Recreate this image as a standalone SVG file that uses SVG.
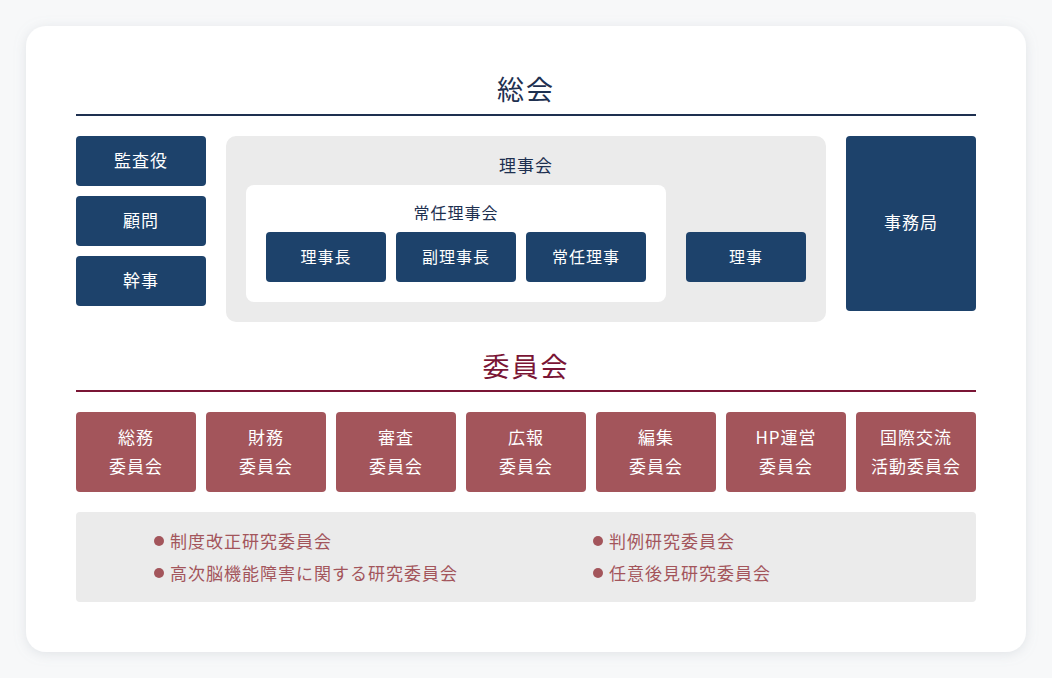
<svg xmlns="http://www.w3.org/2000/svg" width="1052" height="678" viewBox="0 0 1052 678">
<defs>
<filter id="sh" x="-10%" y="-10%" width="120%" height="120%"><feDropShadow dx="0" dy="2" stdDeviation="6" flood-color="#9aa6b0" flood-opacity="0.25"/></filter>
<style>
text{font-family:"Noto Sans CJK JP","Noto Sans",sans-serif;text-anchor:middle}
.nv{fill:#1d426b}
.rd{fill:#a3555b}
.wt{fill:#fff;font-size:17px;letter-spacing:1px}
.wt2{fill:#fff;font-size:16px;letter-spacing:1px}
.gp{fill:#ebebeb}
.li{fill:#a3555b;font-size:17px;text-anchor:start;letter-spacing:1px}
</style>
</defs>
<rect width="1052" height="678" fill="#f7f8f9"/>
<rect x="26" y="26" width="1000" height="626" rx="20" fill="#fff" filter="url(#sh)"/>
<text x="526" y="100" font-size="27" fill="#1e3050" letter-spacing="2">総会</text>
<line x1="76" y1="115" x2="976" y2="115" stroke="#1e3050" stroke-width="2"/>
<g id="kansayaku"><rect class="nv" x="76" y="136" width="130" height="50" rx="4"/><text class="wt" x="141" y="167">監査役</text></g>
<g id="komon"><rect class="nv" x="76" y="196" width="130" height="50" rx="4"/><text class="wt" x="141" y="227">顧問</text></g>
<g id="kanji"><rect class="nv" x="76" y="256" width="130" height="50" rx="4"/><text class="wt" x="141" y="287">幹事</text></g>
<g id="rijikai"><rect class="gp" x="226" y="136" width="600" height="186" rx="10"/><text x="526" y="172" font-size="17" fill="#1e3050" letter-spacing="1">理事会</text></g>
<g id="joninrijikai"><rect x="246" y="185" width="420" height="117" rx="8" fill="#fff"/><text x="456" y="219" font-size="16" fill="#1e3050" letter-spacing="1">常任理事会</text></g>
<g id="rijicho"><rect class="nv" x="266" y="232" width="120" height="50" rx="4"/><text class="wt2" x="326" y="263">理事長</text></g>
<g id="fukurijicho"><rect class="nv" x="396" y="232" width="120" height="50" rx="4"/><text class="wt2" x="456" y="263">副理事長</text></g>
<g id="joninriji"><rect class="nv" x="526" y="232" width="120" height="50" rx="4"/><text class="wt2" x="586" y="263">常任理事</text></g>
<g id="riji"><rect class="nv" x="686" y="232" width="120" height="50" rx="4"/><text class="wt2" x="746" y="263">理事</text></g>
<g id="jimukyoku"><rect class="nv" x="846" y="136" width="130" height="175" rx="4"/><text class="wt" x="911" y="229">事務局</text></g>
<text x="526" y="377" font-size="27" fill="#7a1535" letter-spacing="2">委員会</text>
<line x1="76" y1="391" x2="976" y2="391" stroke="#7a1535" stroke-width="2"/>
<g id="c1"><rect class="rd" x="76" y="412" width="120" height="80" rx="4"/><text class="wt" x="136" y="444">総務</text><text class="wt" x="136" y="473">委員会</text></g>
<g id="c2"><rect class="rd" x="206" y="412" width="120" height="80" rx="4"/><text class="wt" x="266" y="444">財務</text><text class="wt" x="266" y="473">委員会</text></g>
<g id="c3"><rect class="rd" x="336" y="412" width="120" height="80" rx="4"/><text class="wt" x="396" y="444">審査</text><text class="wt" x="396" y="473">委員会</text></g>
<g id="c4"><rect class="rd" x="466" y="412" width="120" height="80" rx="4"/><text class="wt" x="526" y="444">広報</text><text class="wt" x="526" y="473">委員会</text></g>
<g id="c5"><rect class="rd" x="596" y="412" width="120" height="80" rx="4"/><text class="wt" x="656" y="444">編集</text><text class="wt" x="656" y="473">委員会</text></g>
<g id="c6"><rect class="rd" x="726" y="412" width="120" height="80" rx="4"/><text class="wt" x="786" y="444">HP運営</text><text class="wt" x="786" y="473">委員会</text></g>
<g id="c7"><rect class="rd" x="856" y="412" width="120" height="80" rx="4"/><text class="wt" x="916" y="444">国際交流</text><text class="wt" x="916" y="473">活動委員会</text></g>
<g id="kenkyu">
<rect class="gp" x="76" y="512" width="900" height="90" rx="4"/>
<circle class="rd" cx="159" cy="541" r="5"/><text class="li" x="170" y="548">制度改正研究委員会</text>
<circle class="rd" cx="159" cy="573" r="5"/><text class="li" x="170" y="580">高次脳機能障害に関する研究委員会</text>
<circle class="rd" cx="598" cy="541" r="5"/><text class="li" x="609" y="548">判例研究委員会</text>
<circle class="rd" cx="598" cy="573" r="5"/><text class="li" x="609" y="580">任意後見研究委員会</text>
</g>
</svg>
